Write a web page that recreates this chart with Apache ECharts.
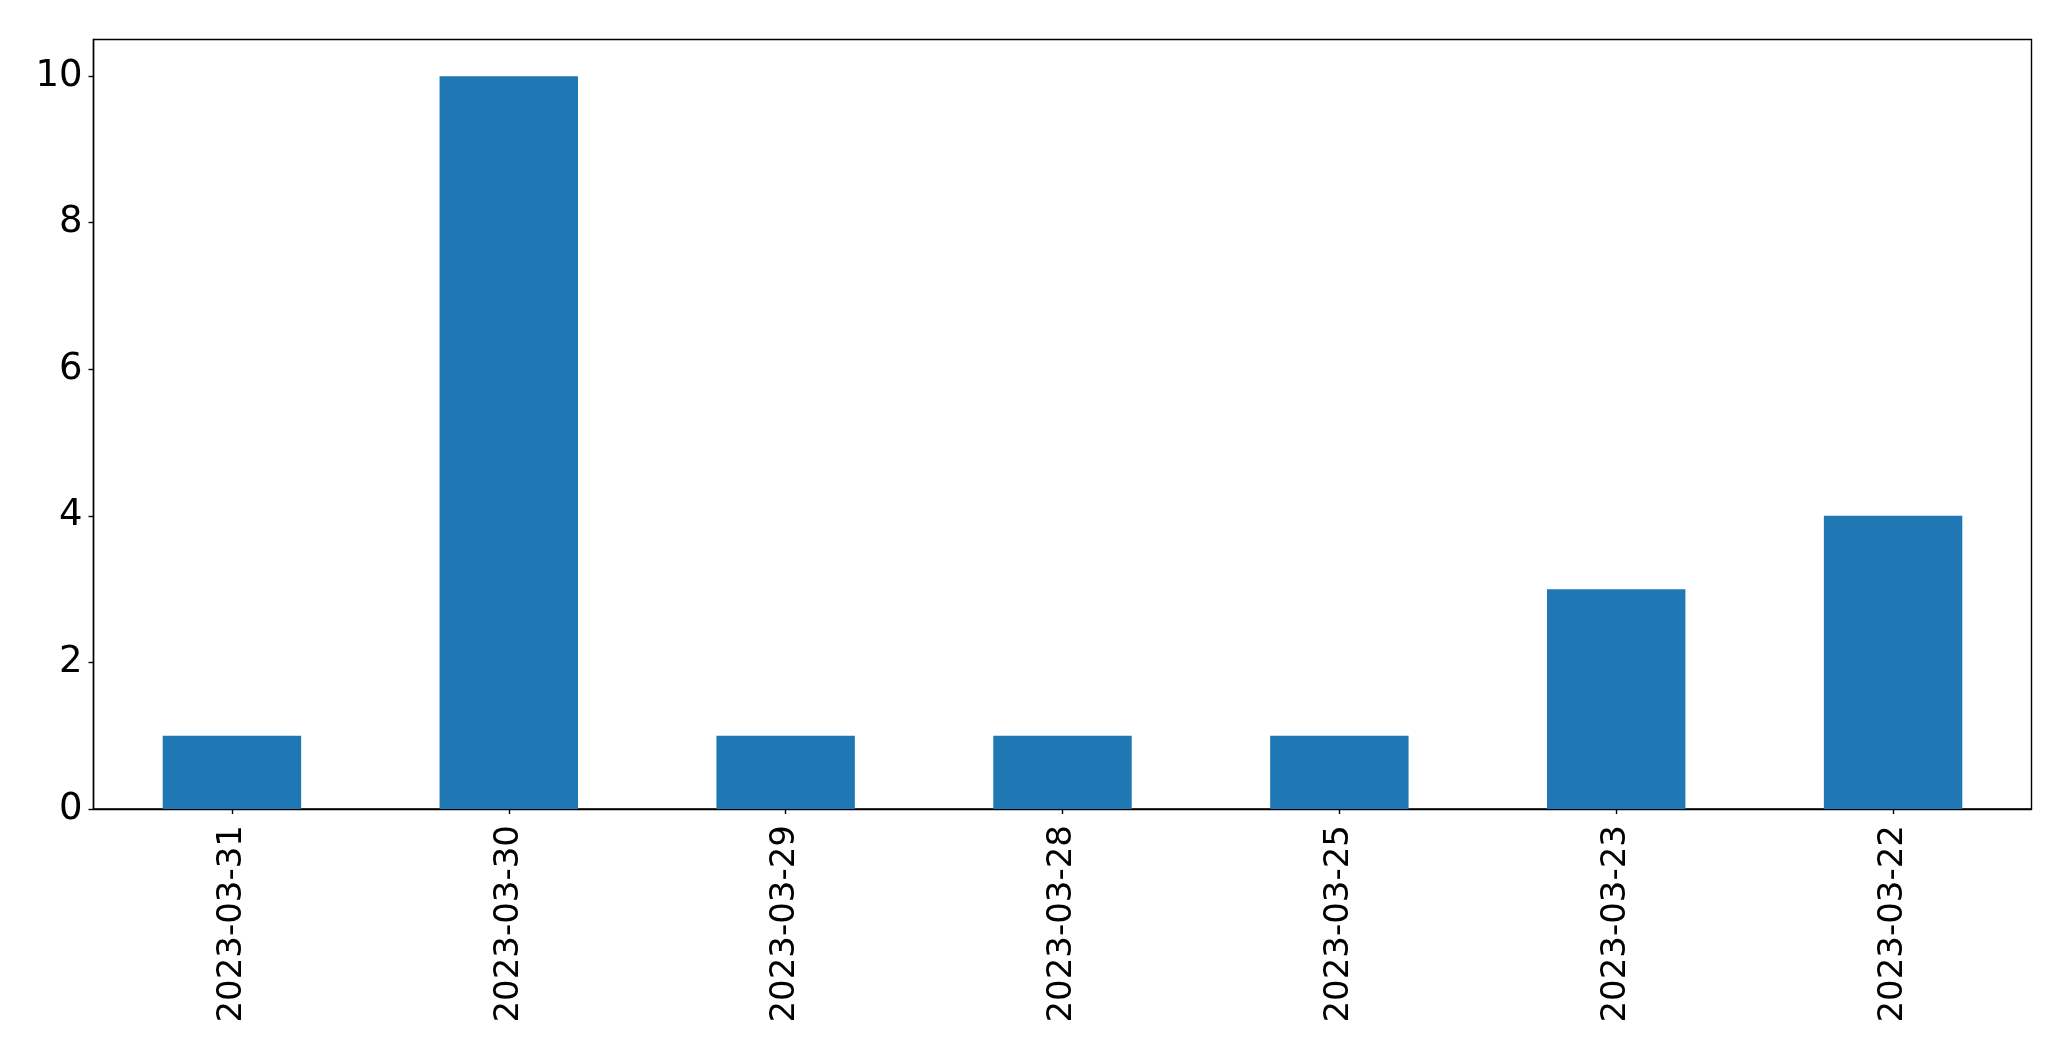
<!DOCTYPE html>
<html>
<head>
<meta charset="utf-8">
<script src="https://cdn.jsdelivr.net/npm/echarts@6/dist/echarts.min.js"></script>
<style>
html,body{margin:0;padding:0;background:#fff;}
#chart{width:2071px;height:1061px;}
</style>
</head>
<body>
<div id="chart"></div>
<script>
const categories = ['2023-03-31','2023-03-30','2023-03-29','2023-03-28','2023-03-25','2023-03-23','2023-03-22'];
const counts = [1, 10, 1, 1, 1, 3, 4];
const yTicks = [0, 2, 4, 6, 8, 10];

const chart = echarts.init(document.getElementById('chart'), null, {renderer: 'canvas'});
chart.setOption({
  animation: false,
  backgroundColor: '#fff',
  grid: {left: 93.5, right: 39.5, top: 39.5, bottom: 252, show: true, borderColor: '#000', borderWidth: 1.4, containLabel: false},
  xAxis: {
    type: 'category',
    data: categories,
    axisLine: {show: true, lineStyle: {color: '#000', width: 1.4}},
    axisTick: {show: true, alignWithLabel: true, length: 5, lineStyle: {color: '#000', width: 1.4}},
    axisLabel: {rotate: 90, margin: 16, interval: 0, fontFamily: 'DejaVu Sans', fontSize: 34, color: '#000'},
    splitLine: {show: false}
  },
  yAxis: {
    type: 'value',
    min: 0,
    max: 10.5,
    interval: 2,
    axisLine: {show: true, lineStyle: {color: '#000', width: 1.4}},
    axisTick: {show: true, length: 5, lineStyle: {color: '#000', width: 1.4}, customValues: yTicks},
    axisLabel: {margin: 11, customValues: yTicks, fontFamily: 'DejaVu Sans', fontSize: 37, color: '#000'},
    splitLine: {show: false}
  },
  series: [{
    type: 'bar',
    data: counts,
    barWidth: '50%',
    itemStyle: {color: '#1f77b4'}
  }]
});
</script>
</body>
</html>
